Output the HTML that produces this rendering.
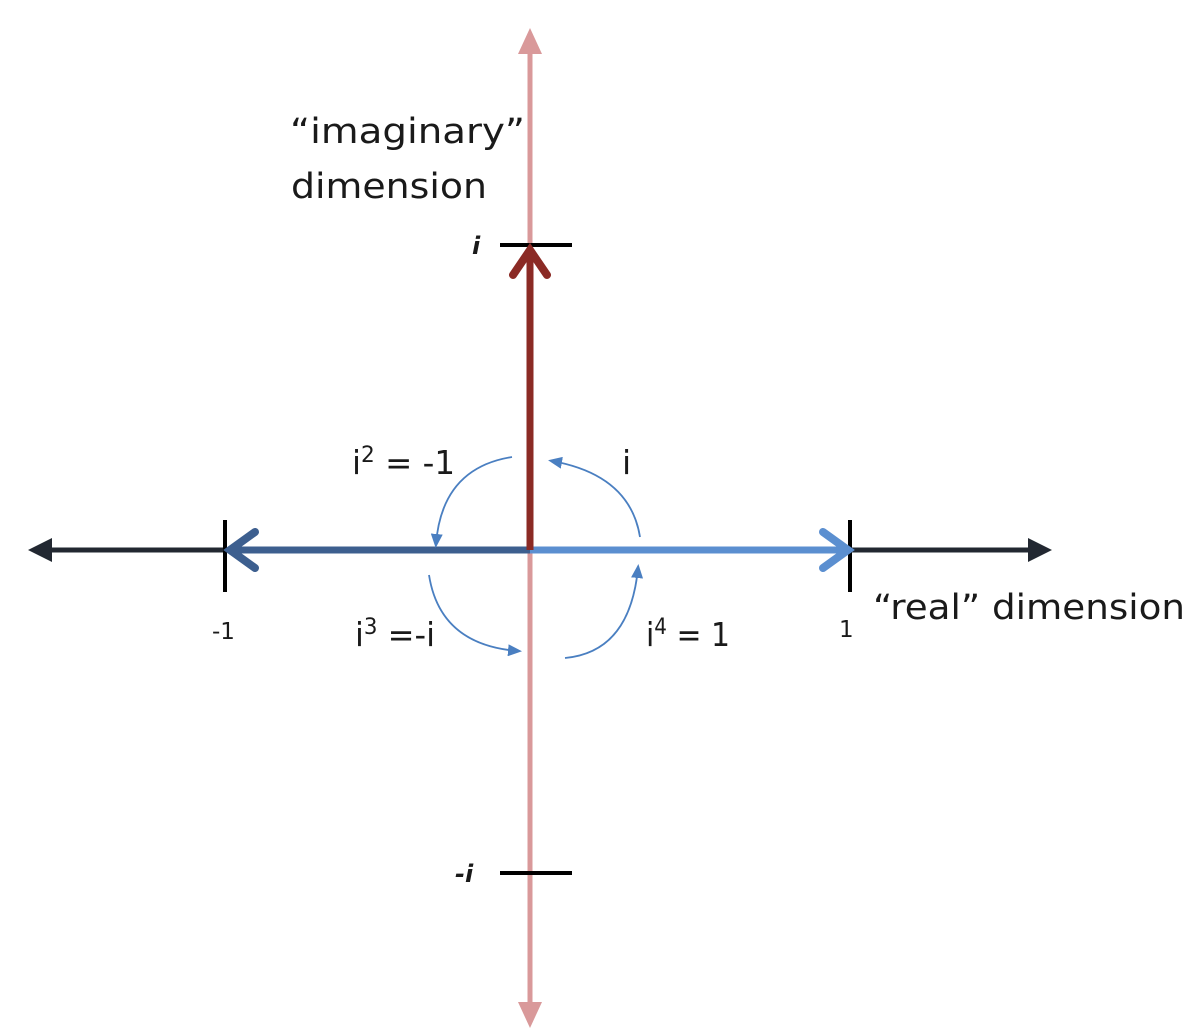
<!DOCTYPE html>
<html><head><style>
html,body{margin:0;padding:0;background:#fff;width:1200px;height:1036px;overflow:hidden}
text{font-family:"DejaVu Sans","Liberation Sans",sans-serif;fill:#1a1a1a}
</style></head><body>
<svg width="1200" height="1036" viewBox="0 0 1200 1036" xmlns="http://www.w3.org/2000/svg">
<defs>
<marker id="ab" markerWidth="14" markerHeight="12" refX="10" refY="6" orient="auto" markerUnits="userSpaceOnUse">
<path d="M0,0 L14,6 L0,12 Z" fill="#4a7fc1"/></marker>
</defs>
<line x1="530" y1="50" x2="530" y2="1005" stroke="#d9999a" stroke-width="5"/>
<polygon points="530,28 518,54 542,54" fill="#d9999a"/>
<polygon points="530,1028 518,1002 542,1002" fill="#d9999a"/>
<line x1="45" y1="550" x2="1035" y2="550" stroke="#222831" stroke-width="5"/>
<polygon points="28,550 52,538 52,562" fill="#222831"/>
<polygon points="1052,550 1028,538 1028,562" fill="#222831"/>
<line x1="225" y1="520" x2="225" y2="592" stroke="#000" stroke-width="4"/>
<line x1="850" y1="520" x2="850" y2="592" stroke="#000" stroke-width="4"/>
<line x1="500" y1="245" x2="572" y2="245" stroke="#000" stroke-width="4"/>
<line x1="500" y1="873" x2="572" y2="873" stroke="#000" stroke-width="4"/>
<line x1="530" y1="550" x2="232" y2="550" stroke="#3d5f8f" stroke-width="7"/>
<polyline points="255,532 230,550 255,568" fill="none" stroke="#3d5f8f" stroke-width="8" stroke-linecap="round"/>
<line x1="530" y1="550" x2="843" y2="550" stroke="#5b8fd0" stroke-width="7"/>
<polyline points="823,532 848,550 823,568" fill="none" stroke="#5b8fd0" stroke-width="8" stroke-linecap="round"/>
<line x1="530" y1="550" x2="530" y2="252" stroke="#8b2a25" stroke-width="7"/>
<polyline points="513,275 530,250 547,275" fill="none" stroke="#8b2a25" stroke-width="8" stroke-linecap="round"/>
<g fill="none" stroke="#4a7fc1" stroke-width="1.8">
<path d="M640,537 Q630,475 552,461" marker-end="url(#ab)"/>
<path d="M512,457 Q442,468 436,544" marker-end="url(#ab)"/>
<path d="M429,575 Q440,645 518,651" marker-end="url(#ab)"/>
<path d="M565,658 Q630,652 638,568" marker-end="url(#ab)"/>
</g>
<text x="290" y="143" font-size="35" textLength="235" lengthAdjust="spacingAndGlyphs">“imaginary”</text>
<text x="291" y="198" font-size="35" textLength="196" lengthAdjust="spacingAndGlyphs">dimension</text>
<text x="472" y="254" font-size="24" font-style="italic" font-weight="bold">i</text>
<text x="455" y="882" font-size="24" font-style="italic" font-weight="bold">-i</text>
<text x="212" y="639" font-size="23">-1</text>
<text x="839" y="637" font-size="23">1</text>
<text x="873" y="619" font-size="35" textLength="312" lengthAdjust="spacingAndGlyphs">“real” dimension</text>
<text x="352" y="474" font-size="33" textLength="103" lengthAdjust="spacingAndGlyphs">i<tspan font-size="22" dy="-12">2</tspan><tspan dy="12"> = -1</tspan></text>
<text x="622" y="474" font-size="33">i</text>
<text x="355" y="646" font-size="33" textLength="80" lengthAdjust="spacingAndGlyphs">i<tspan font-size="22" dy="-12">3</tspan><tspan dy="12"> =-i</tspan></text>
<text x="646" y="646" font-size="33" textLength="84" lengthAdjust="spacingAndGlyphs">i<tspan font-size="22" dy="-12">4</tspan><tspan dy="12"> = 1</tspan></text>
</svg>
</body></html>
